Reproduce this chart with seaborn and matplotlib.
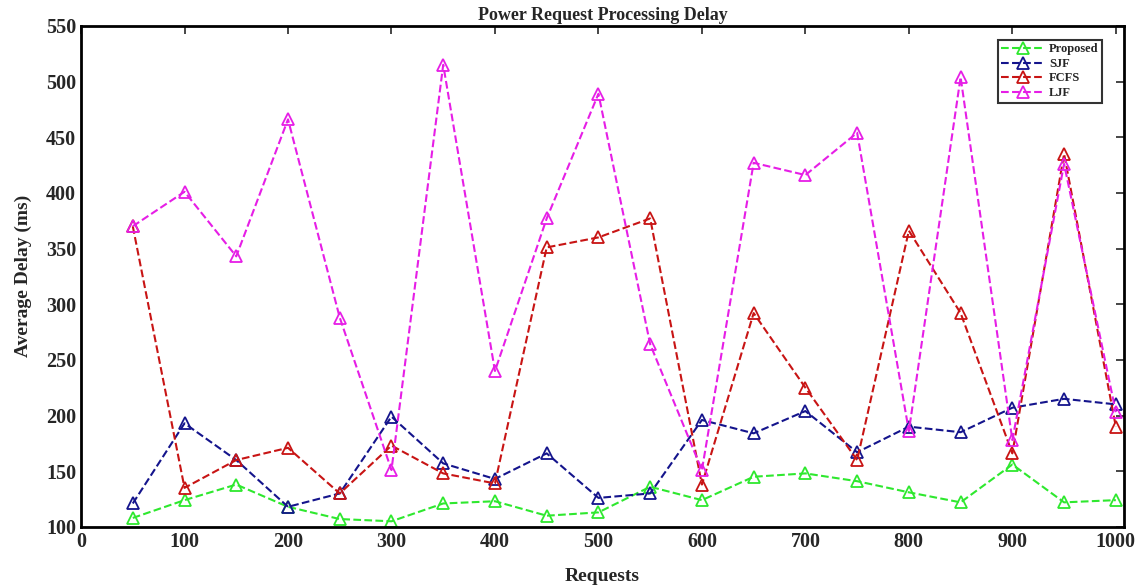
import numpy as np
import pandas as pd
import matplotlib
matplotlib.use("Agg")
import matplotlib.pyplot as plt
import seaborn as sns

requests = [50, 100, 150, 200, 250, 300, 350, 400, 450, 500,
            550, 600, 650, 700, 750, 800, 850, 900, 950, 1000]

proposed = [108, 124, 138, 118, 107, 105, 121, 123, 110, 113,
            136, 124, 145, 148, 141, 131, 122, 156, 122, 124]
sjf = [121, 193, 160, 118, 130, 199, 157, 143, 166, 126,
       130, 196, 184, 204, 167, 190, 185, 207, 215, 210]
fcfs = [370, 135, 160, 171, 130, 173, 148, 139, 351, 360,
        377, 138, 292, 225, 160, 366, 292, 166, 435, 190]
ljf = [370, 401, 343, 466, 288, 151, 515, 240, 377, 489,
       264, 151, 427, 416, 454, 186, 504, 178, 426, 203]

series_names = ["Proposed", "SJF", "FCFS", "LJF"]
series_values = [proposed, sjf, fcfs, ljf]
colors = ["#2ee82e", "#14148c", "#c81414", "#e61ee6"]

sns.set_style("white")
plt.rcParams['font.family'] = ['Liberation Serif', 'DejaVu Serif']
plt.rcParams['font.weight'] = 'bold'

fig = plt.figure(figsize=(11.35, 5.88), dpi=100)
ax = fig.add_axes([0.0714, 0.104, 0.919, 0.852])

for name, vals, col in zip(series_names, series_values, colors):
    sns.lineplot(x=requests, y=vals, ax=ax, color=col, label=name,
                 linestyle='--', linewidth=1.5, marker='^', markersize=8,
                 markerfacecolor='none', markeredgecolor=col, markeredgewidth=1.3)

ax.set_xlim(0, 1008)
ax.set_ylim(100, 550)
ax.set_xticks(np.arange(0, 1001, 100))
ax.set_yticks(np.arange(100, 551, 50))
ax.tick_params(axis='both', direction='in', length=6, width=1.2,
               top=True, right=True, labelsize=14.5)
for lab in ax.get_xticklabels() + ax.get_yticklabels():
    lab.set_fontweight('bold')
for sp in ax.spines.values():
    sp.set_linewidth(2)
    sp.set_color('black')

ax.set_title("Power Request Processing Delay", fontsize=13, fontweight='bold', pad=4)
ax.set_xlabel("Requests", fontsize=14, fontweight='bold', labelpad=12)
ax.set_ylabel("Average Delay (ms)", fontsize=14, fontweight='bold', labelpad=10)

leg = ax.legend(loc='upper right', bbox_to_anchor=(0.985, 0.985), fontsize=9,
                frameon=True, fancybox=False, handlelength=3.4,
                borderpad=0.3, labelspacing=0.2, handletextpad=0.4)
leg.get_frame().set_edgecolor('black')
leg.get_frame().set_linewidth(1.5)
for t in leg.get_texts():
    t.set_fontweight('bold')

fig.savefig("out.png", dpi=100)
